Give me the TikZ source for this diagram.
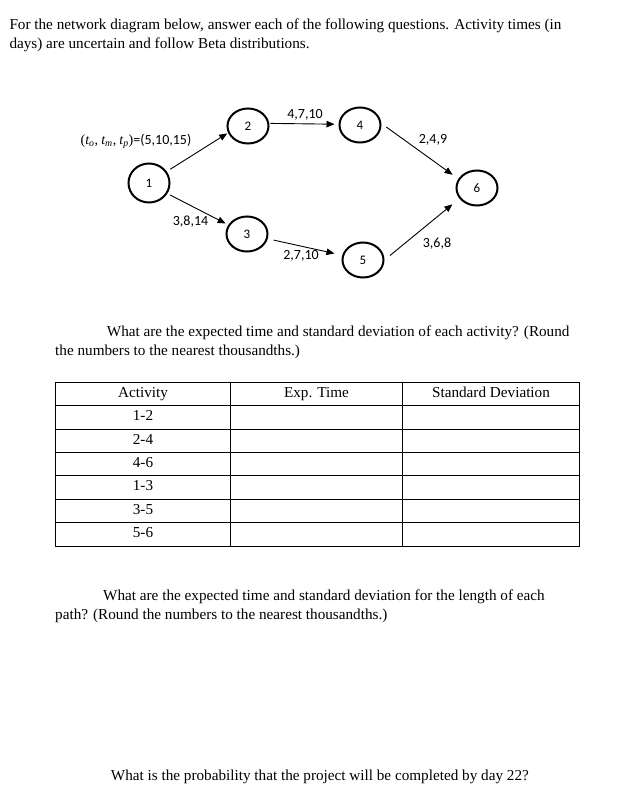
\documentclass[tikz,border=0pt]{standalone}
\usepackage{fontspec}
\setmainfont{Liberation Serif}
\newfontfamily\carl{Carlito}
\newfontfamily\mathlike{Liberation Serif}
\usetikzlibrary{shapes.geometric,arrows.meta}
\newcommand{\tsub}[1]{{\mathlike\itshape t}\textsubscript{\mathlike\itshape #1}}
\begin{document}
\begin{tikzpicture}[x=1pt,y=-1pt,
 txt/.style={anchor=base west,inner sep=0pt,font=\fontsize{15.2}{18}\selectfont},
 ctxt/.style={anchor=base,inner sep=0pt,font=\fontsize{15.2}{18}\selectfont},
 ev/.style={ellipse,draw,line width=2pt,minimum width=41pt,minimum height=35pt,inner sep=0pt,font=\carl\fontsize{13}{15}\selectfont},
 lbl/.style={inner sep=0pt,font=\carl\fontsize{14}{16}\selectfont},
 arr/.style={-{Triangle[length=8pt,width=6.5pt]},line width=0.9pt},
 grid/.style={line width=0.8pt}]
\useasboundingbox[fill=white] (0,0) rectangle (628,795);

% intro text
\node[txt] (l1) at (9.3,29.3) {For the network diagram below, answer each of the following questions. Activity times (in};
\node[txt] (l2) at (9.3,48.3) {days) are uncertain and follow Beta distributions.};

% network
\node[ev,minimum height=39pt] (n1) at (149,183) {1};
\node[ev] (n2) at (248,126) {2};
\node[ev] (n3) at (247,234) {3};
\node[ev] (n4) at (360,125) {4};
\node[ev] (n5) at (363,260) {5};
\node[ev] (n6) at (477,188) {6};

\draw[arr,shorten <=4pt,shorten >=1pt] (n1.33) -- (n2.199);
\draw[arr,shorten <=3pt,shorten >=3pt] (n1.-30) -- (n3.154);
\draw[arr,shorten <=1pt,shorten >=4pt] (n2.7) -- (n4.178);
\draw[arr,shorten <=6pt,shorten >=7pt] (n4.4) -- (n6.154);
\draw[arr,shorten <=6pt,shorten >=8pt] (n3.-13) -- (n5.167);
\draw[arr,shorten <=7pt,shorten >=9pt] (n5.0) -- (n6.211);

\node[lbl] (ltm) at (136,141.7) {{\mathlike(}\tsub{o}{\mathlike,} \tsub{m}{\mathlike,} \tsub{p}{\mathlike)}=(5,10,15)};
\node[lbl] (l24) at (305,115) {4,7,10};
\node[lbl] (l13) at (190.5,221.7) {3,8,14};
\node[lbl] (l46) at (433,140) {2,4,9};
\node[lbl] (l56) at (437,244) {3,6,8};
\node[lbl] (l35) at (301,256) {2,7,10};

% question 1
\node[txt] (q1a) at (106.7,336.7) {What are the expected time and standard deviation of each activity? (Round};
\node[txt] (q1b) at (55,355) {the numbers to the nearest thousandths.)};

% table
\draw[grid] (55.5,382.5) rectangle (579.5,546.3);
\foreach \yy in {405,429,452.3,475.5,499,522.5}
  \draw[grid] (55.5,\yy) -- (579.5,\yy);
\draw[grid] (230.5,382.5) -- (230.5,546.3);
\draw[grid] (402.5,382.5) -- (402.5,546.3);

\node[ctxt] (h1) at (143,397.5) {Activity};
\node[ctxt] (h2) at (316.5,397.5) {Exp. Time};
\node[ctxt] (h3) at (491,397.5) {Standard Deviation};
\node[ctxt] (r1) at (143,420) {1-2};
\node[ctxt] (r2) at (143,444) {2-4};
\node[ctxt] (r3) at (143,467.3) {4-6};
\node[ctxt] (r4) at (143,490.5) {1-3};
\node[ctxt] (r5) at (143,514) {3-5};
\node[ctxt] (r6) at (143,537.5) {5-6};

% question 2
\node[txt] (q2a) at (103,600) {What are the expected time and standard deviation for the length of each};
\node[txt] (q2b) at (55,619.5) {path? (Round the numbers to the nearest thousandths.)};

% question 3
\node[txt] (q3) at (110.7,780.7) {What is the probability that the project will be completed by day 22?};
\end{tikzpicture}
\end{document}
